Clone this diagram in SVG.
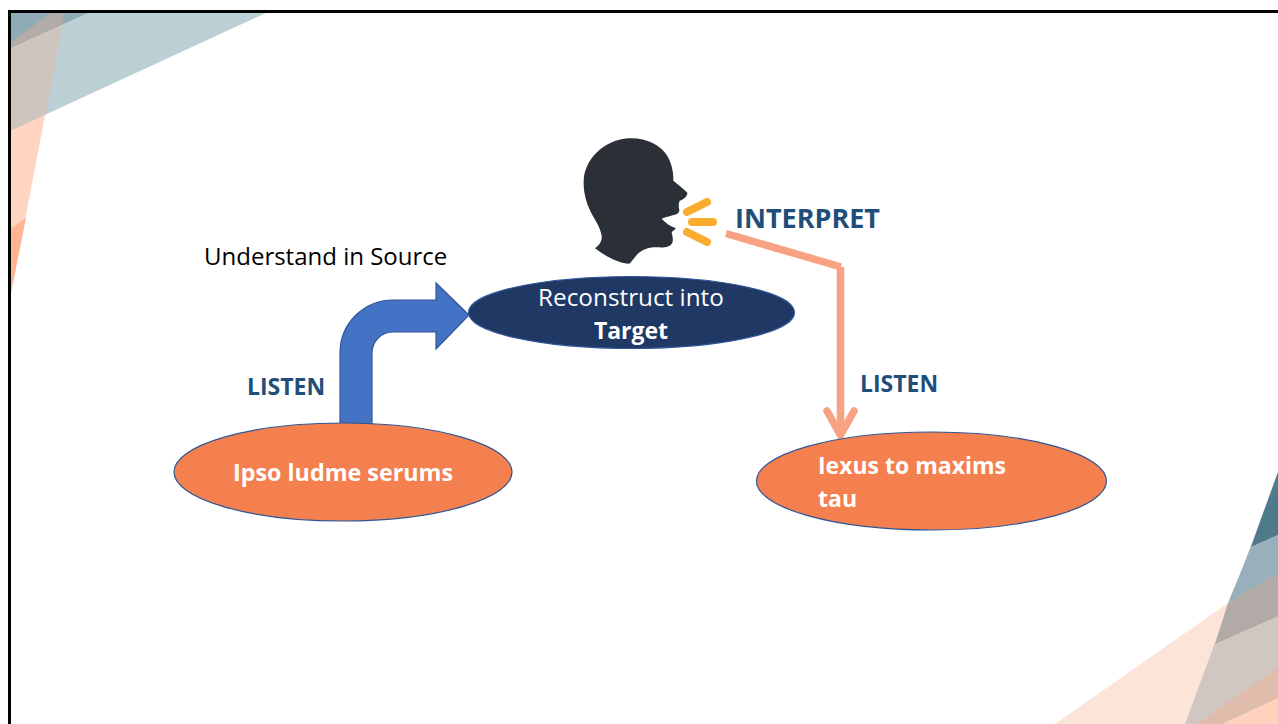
<svg xmlns="http://www.w3.org/2000/svg" width="1278" height="724" viewBox="0 0 1278 724">
<style>
text{font-family:"Open Sans","Noto Sans","Liberation Sans",sans-serif}
.oval{fill:#f4804f;stroke:#2f5597;stroke-width:1.2}
.w{fill:#fff;font-weight:700;font-size:23px}
.l{fill:#1f4e79;font-weight:700;font-size:23px}
.c{fill:none;stroke:#f8a283;stroke-width:7.5}
.s{fill:none;stroke:#fbab2e;stroke-width:8;stroke-linecap:round}
</style>
<rect width="1278" height="724" fill="#fff"/>
<g id="background">
<polygon points="10,12 65,12 10,298" fill="#ffd5c2"/>
<polygon points="10,229 26,218 10,298" fill="#ffb592"/>
<polygon points="10,12 268,12 10,131" fill="#bccfd5"/>
<polygon points="10,12 65,12 46,114 10,131" fill="#cfc5bf"/>
<polygon points="10,12 90,12 10,48" fill="#8fabb6"/>
<polygon points="10,42 53,12 65,12 62,24 10,48" fill="#b3aba6"/>
<polygon points="1055,724 1228,603 1228,724" fill="#fce4d8"/>
<polygon points="1278,472 1278,724 1185,724" fill="#d0c7c2"/>
<polygon points="1278,472 1278,535 1251,547" fill="#4f7a8c"/>
<polygon points="1251,547 1278,535 1278,573 1228,603" fill="#97b0bb"/>
<polygon points="1228,603 1278,573 1278,616 1215,644" fill="#b2aaa6"/>
<polygon points="1197,724 1278,667 1278,698 1222,724" fill="#e0bcad"/>
<polygon points="1222,724 1278,698 1278,724" fill="#fed2bd"/>
</g>
<g id="frame" fill="none" stroke="#000" stroke-width="3">
<path d="M9.500 724V11.500H1278"/>
</g>
<g id="connectors">
<path id="bent-arrow" d="M340 424V353A53 53 0 0 1 393 300H436V283L469 315L436 349V332H393A21 21 0 0 0 372 353V424Z" fill="#4472c4" stroke="#2f5597" stroke-width="1.200"/>
<path class="c" d="M726 233.500L841 267"/>
<path class="c" d="M840.500 267V434"/>
<path class="c" stroke-linecap="round" d="M827 411L840.500 435L854 411"/>
</g>
<g id="node-source">
<ellipse class="oval" cx="343" cy="472" rx="169" ry="49"/>
<text class="w" x="343" y="481" text-anchor="middle" font-size="23.300" style="font-size:23.300px">Ipso ludme serums</text>
</g>
<g id="node-reconstruct">
<ellipse cx="631.500" cy="312.500" rx="163" ry="36" fill="#1f3864" stroke="#2f5597" stroke-width="1.200"/>
<text x="631" y="306" text-anchor="middle" fill="#fff" font-size="24.300">Reconstruct into</text>
<text x="631" y="339" text-anchor="middle" fill="#fff" font-size="23" font-weight="700">Target</text>
</g>
<g id="node-target">
<ellipse class="oval" cx="931.500" cy="481" rx="175" ry="49"/>
<text class="w" x="818" y="474">Iexus to maxims</text>
<text class="w" x="818" y="507">tau</text>
</g>
<g id="node-speaker">
<g transform="translate(570 130) scale(.33333)">
<path fill="#2b2f36" d="M175 25C225 22 270 42 292 78C306 102 311 130 310 152C325 165 340 175 352 188C352 200 340 208 329 212C325 222 326 232 328 240C328 250 318 254 308 256C295 260 285 262 275 266C285 278 300 288 318 295C312 302 305 305 305 308C308 318 310 328 307 338C302 350 285 353 265 352C240 350 215 358 200 375C192 385 185 395 178 401C150 400 115 385 75 355C90 345 97 330 95 318C92 300 85 285 70 260C50 225 40 190 41 155C42 90 100 30 175 25Z"/>
</g>
<path class="s" d="M687 212L707 202"/>
<path class="s" d="M692 222H713"/>
<path class="s" d="M687 232L707 242"/>
</g>
<g id="labels">
<text x="204" y="265" font-size="24" fill="#000">Understand in Source</text>
<text x="735" y="228" font-size="27" font-weight="700" fill="#1f4e79">INTERPRET</text>
<text class="l" x="247" y="395">LISTEN</text>
<text class="l" x="860" y="392">LISTEN</text>
</g>
</svg>
